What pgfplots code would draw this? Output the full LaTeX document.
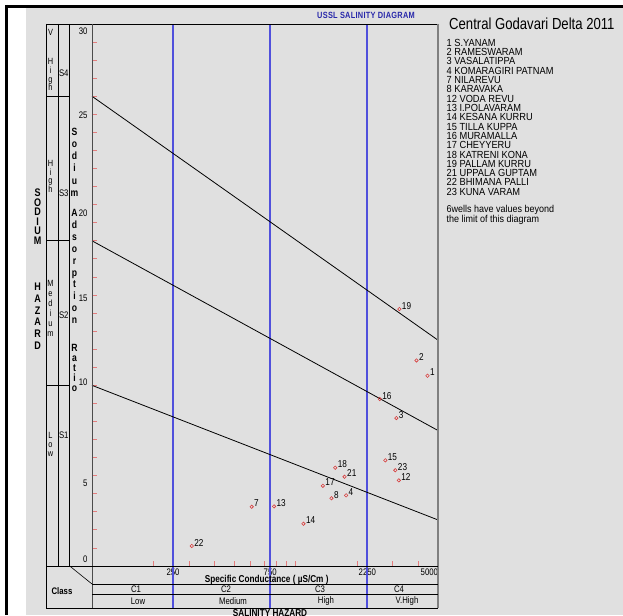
\documentclass[border=0pt]{standalone}
\usepackage{pgfplots}
\pgfplotsset{compat=1.18}
\usepackage{pgfplotstable}
\usepackage{fontspec}
\setmainfont{Liberation Sans}
\newfontfamily\narrow{Liberation Sans}[FakeStretch=0.82]
\newfontfamily\listf{Liberation Sans}[FakeStretch=0.9]
\definecolor{bg}{RGB}{224,224,224}
\definecolor{ttl}{RGB}{40,40,170}
\definecolor{cls}{RGB}{80,80,220}
\definecolor{tk}{RGB}{228,125,125}
\definecolor{pt}{RGB}{215,60,60}

% EC (uS/cm), SAR, well number
\pgfplotstableread{
ec   sar   lab
4440 10.53 1
3920 11.38 2
3122 8.19  3
1769 3.91  4
608  3.28  7
1498 3.75  8
3209 4.74  12
783  3.30  13
1092 2.34  14
2756 5.85  15
2586 9.24  16
1360 4.44  17
1564 5.44  18
3231 14.22 19
1739 4.94  21
309  1.11  22
3087 5.30  23
}\wells

% stacked letters: x, first baseline, pitch, font, letters
\newcommand\vword[5]{\foreach \c [count=\i from 0] in {#5}
  {\node[font=#4, inner sep=0pt, anchor=base] at ({#1},{#2+\i*#3}) {\c};}}
% tick label moved by #1 without changing its box
\newcommand\yl[2]{\raisebox{#1}[6.8pt][0pt]{#2}}

\begin{document}
\begin{tikzpicture}
\useasboundingbox (0,0) rectangle (623pt,-615pt);
\begin{scope}[x=1pt,y=-1pt]
  \fill[white] (0,0) rectangle (623,615);
  \fill[bg] (26,8) rectangle (623,615);
  \draw[line width=2.5pt] (5,6.5) -- (623,6.5);
  \draw[line width=2.5pt] (6.5,5) -- (6.5,615);
\end{scope}

\begin{axis}[
  at={(92pt,-566pt)}, anchor=south west,
  scale only axis, width=346pt, height=542pt,
  xmode=log, xmin=100, xmax=5000, ymin=0, ymax=30,
  axis line style={draw=none},
  clip=false,
  tick pos=left, tick align=inside,
  major tick length=5pt, minor tick length=5pt,
  xtick={250,750,2250,5000},
  xticklabels={250,750,2250,\makebox[0pt][r]{5000}},
  minor xtick={200,300,400,500,600,700,800,900,1000,2000,3000,4000},
  every major x tick/.append style={draw=none},
  ytick={0,5,10,15,20,25,30},
  yticklabels={\yl{7pt}{0},\yl{-7.5pt}{5},\yl{3.5pt}{10},\yl{-3pt}{15},\yl{-8.5pt}{20},\yl{-1pt}{25},\yl{-7.5pt}{30}},
  minor ytick={1,2,3,4,6,7,8,9,11,12,13,14,16,17,18,19,21,22,23,24,26,27,28,29},
  tick style={tk, line width=0.8pt},
  minor tick style={tk, line width=0.8pt},
  ticklabel style={font=\narrow\fontsize{9.5}{10}\selectfont},
  xticklabel style={yshift=1pt},
  yticklabel style={xshift=-1pt},
  /pgf/number format/assume math mode=true,
]
% salinity class limits
\addplot[cls, line width=2pt] coordinates {(250,30) (250,-2.32)};
\addplot[cls, line width=2pt] coordinates {(750,30) (750,-2.32)};
\addplot[cls, line width=2pt] coordinates {(2250,30) (2250,-2.32)};
% sodium hazard boundaries
\addplot[black, line width=0.8pt] coordinates {(100,26) (5000,12.5)};
\addplot[black, line width=0.8pt] coordinates {(100,18) (5000,7.5)};
\addplot[black, line width=0.8pt] coordinates {(100,10) (5000,2.55)};
% wells
\addplot[only marks, mark=o, mark size=1.7pt, pt, line width=0.6pt,
  nodes near coords, point meta=explicit symbolic,
  nodes near coords style={anchor=south west, black, inner sep=0pt,
    xshift=2.3pt, yshift=-0.5pt, font=\narrow\fontsize{10}{10}\selectfont}]
  table[x=ec, y=sar, meta=lab] {\wells};
\end{axis}

\begin{scope}[x=1pt,y=-1pt]
  % frame
  \draw[black, line width=0.8pt] (46,24) -- (438,24);
  \draw[black, line width=0.8pt] (46,24) -- (46,608) -- (438,608);
  \draw[black, line width=0.8pt] (58.7,24) -- (58.7,566);
  \draw[black, line width=0.8pt] (69.7,24) -- (69.7,566);
  \draw[black!70, line width=0.8pt] (92,24) -- (92,608);
  \draw[black!50, line width=1.2pt] (438,24) -- (438,608);
  \draw[black, line width=0.8pt] (46,566) -- (438,566);
  \foreach \yy in {96.2,240.7,385.3} \draw[black, line width=0.8pt] (46,\yy) -- (69.7,\yy);
  \draw[black, line width=0.6pt] (69.7,566) -- (92,584);
  \draw[black, line width=0.8pt] (92,584) -- (438,584);
  \draw[black, line width=0.8pt] (92,594.3) -- (438,594.3);

  % left panel
  \vword{50.5}{35.2}{8.8}{\narrow\fontsize{9}{9}\selectfont}{V}
  \vword{50.5}{64.5}{8.8}{\narrow\fontsize{9}{9}\selectfont}{H,i,g,h}
  \vword{50.5}{166.8}{8.4}{\narrow\fontsize{9}{9}\selectfont}{H,i,g,h}
  \vword{50.5}{286.8}{9.9}{\narrow\fontsize{9}{9}\selectfont}{M,e,d,i,u,m}
  \vword{50.5}{438.5}{9}{\narrow\fontsize{9}{9}\selectfont}{L,o,w}
  \foreach \s/\yy in {S4/76.8,S3/196.5,S2/318.5,S1/438.5}
    \node[font=\narrow\fontsize{9.5}{10}\selectfont, inner sep=0pt, anchor=base] at (63.8,\yy) {\s};
  \vword{74.5}{135.2}{12.2}{\narrow\bfseries\fontsize{10.5}{10}\selectfont}{S,o,d,i,u,m}
  \vword{74.5}{216.5}{11.9}{\narrow\bfseries\fontsize{10.5}{10}\selectfont}{A,d,s,o,r,p,t,i,o,n}
  \vword{74.5}{351.5}{10}{\narrow\bfseries\fontsize{10.5}{10}\selectfont}{R,a,t,i,o}
  \vword{37.7}{196.5}{9.5}{\narrow\bfseries\fontsize{11}{10}\selectfont}{S,O,D,I,U,M}
  \vword{37.7}{290.5}{11.8}{\narrow\bfseries\fontsize{11}{10}\selectfont}{H,A,Z,A,R,D}

  % bottom table
  \node[font=\narrow\bfseries\fontsize{10}{10}\selectfont, inner sep=0pt] at (266.7,580) {Specific Conductance ( µS/Cm )};
  \node[font=\narrow\bfseries\fontsize{9.5}{10}\selectfont, inner sep=0pt] at (62,590.7) {Class};
  \foreach \t/\xx in {C1/136,C2/226,C3/320,C4/399}
    \node[font=\narrow\fontsize{9.5}{10}\selectfont, inner sep=0pt] at (\xx,589.3) {\t};
  \foreach \t/\xx in {Low/138,Medium/233,High/326,V.High/407}
    \node[font=\narrow\fontsize{9.5}{10}\selectfont, inner sep=0pt] at (\xx,601.3) {\t};
  \node[font=\narrow\bfseries\fontsize{10}{10}\selectfont, inner sep=0pt, anchor=north] at (270,609.5) {SALINITY HAZARD};

  % titles
  \node[font=\narrow\bfseries\fontsize{9}{9}\selectfont\addfontfeatures{LetterSpace=3}, text=ttl, inner sep=0pt] at (366,15.5) {USSL SALINITY DIAGRAM};
  \node[font=\narrow\fontsize{16}{16}\selectfont, inner sep=0pt, anchor=base west] at (449,30) {Central Godavari Delta 2011};

  % well list
  \foreach \t [count=\k from 0] in {1 S.YANAM, 2 RAMESWARAM, 3 VASALATIPPA, 4 KOMARAGIRI PATNAM,
      7 NILAREVU, 8 KARAVAKA, 12 VODA REVU, 13 I.POLAVARAM, 14 KESANA KURRU, 15 TILLA KUPPA,
      16 MURAMALLA, 17 CHEYYERU, 18 KATRENI KONA, 19 PALLAM KURRU, 21 UPPALA GUPTAM,
      22 BHIMANA PALLI, 23 KUNA VARAM}
    \node[font=\listf\fontsize{10.3}{10}\selectfont, inner sep=0pt, anchor=base west] at (446.5,{46.4+\k*9.3}) {\t};
  \node[font=\listf\fontsize{10}{10}\selectfont, inner sep=0pt, anchor=base west] at (446.5,212) {6wells have values beyond};
  \node[font=\listf\fontsize{10}{10}\selectfont, inner sep=0pt, anchor=base west] at (446.5,222) {the limit of this diagram};
\end{scope}
\end{tikzpicture}
\end{document}
